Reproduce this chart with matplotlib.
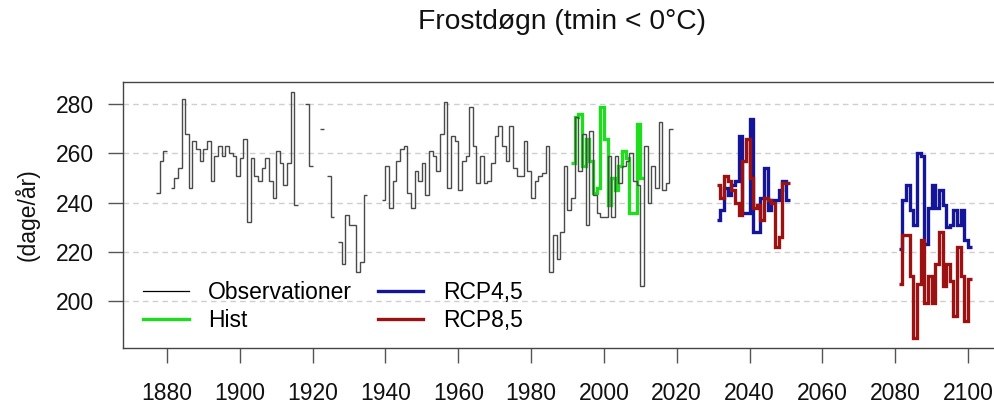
import numpy as np
import matplotlib
matplotlib.use("Agg")
import matplotlib.pyplot as plt
from matplotlib.lines import Line2D

plt.rcParams['font.family'] = ['Liberation Sans', 'DejaVu Sans']

nan = np.nan

# ---------------- data ----------------
obs_years = list(range(1877, 2019))
obs_vals = [
    244, 257, 261, nan, 246, 250, 254, 282, 268, 246,      # 1877-1886
    265, 262, 257, 262, 265, 249, 259, 263, 259, 263,      # 1887-1896
    260, 259, 251, 258, 266, 232, 258, 251, 249, 254,      # 1897-1906
    258, 249, 242, 261, 256, 247, 256, 285, 239, nan,      # 1907-1916
    nan, 280, 255, nan, nan, 270, nan, 251, 234, nan,      # 1917-1926
    224, 215, 235, 231, 231, 212, 216, 243, nan, nan,      # 1927-1936
    nan, nan, 241, 255, 238, 249, 257, 262, 263, 244,      # 1937-1946
    238, 253, 249, 256, 243, 261, 259, 253, 268, 281,      # 1947-1956
    246, 267, 265, 245, 257, 259, 279, 263, 248, 259,      # 1957-1966
    248, 249, 256, 267, 271, 263, 257, 271, 254, 251,      # 1967-1976
    251, 265, 253, 242, 249, 251, 252, 263, 212, 227,      # 1977-1986
    217, 228, 255, 237, 242, 275, 253, 268, 231, 269,      # 1987-1996
    243, 236, 234, 234, 259, 234, 259, 248, 255, 257,      # 1997-2006
    260, 249, 247, 206, 263, 240, 255, 246, 273, 245,      # 2007-2016
    248, 270,                                              # 2017-2018
]

hist_years = list(range(1991, 2011))
hist_vals = [256, 275, 276, 255, 266, 257, 244, 246, 279, 266,
             239, 250, 245, 255, 261, 258, 236, 236, 272, 250]

rcp_years_mid = list(range(2031, 2051))
rcp_years_end = list(range(2081, 2101))
rcp45_mid = [233, 237, 246, 243, 247, 249, 267, 236, 236, 274,
             228, 228, 242, 254, 237, 241, 241, 245, 249, 241]
rcp85_mid = [247, 242, 251, 249, 245, 240, 235, 257, 266, 250,
             238, 239, 233, 242, 241, 240, 222, 226, 248, 248]
rcp45_end = [221, 241, 247, 237, 231, 260, 259, 223, 238, 247,
             238, 245, 239, 230, 231, 237, 231, 237, 225, 222]
rcp85_end = [207, 227, 227, 210, 185, 207, 225, 199, 210, 199,
             215, 228, 206, 215, 208, 194, 222, 210, 192, 209]

x_ticks = [1880, 1900, 1920, 1940, 1960, 1980, 2000, 2020, 2040, 2060, 2080, 2100]
y_ticks = [200, 220, 240, 260, 280]

title = "Frostdøgn (tmin < 0°C)"
ylabel = "(dage/år)"
labels = ["Observationer", "Hist", "RCP4,5", "RCP8,5"]

# ---------------- styles ----------------
C_OBS = "#4a4a4a"
C_HIST = "#1fdc1f"
C_45 = "#15159a"
C_85 = "#9c1212"
FS = 16.5
LW_SCN = 2.4

W, H = 995, 405
fig = plt.figure(figsize=(W / 100, H / 100), dpi=100)
ax_l, ax_r, ax_t, ax_b = 123, 1001, 82, 348
ax = fig.add_axes([ax_l / W, 1 - ax_b / H, (ax_r - ax_l) / W, (ax_b - ax_t) / H])


def draw_steps(ax, years, values, label=None, **kw):
    yrs = np.asarray(years, dtype=float)
    vals = np.asarray(values, dtype=float)
    ok = np.isfinite(vals)
    handle = None
    i = 0
    n = len(vals)
    while i < n:
        if not ok[i]:
            i += 1
            continue
        j = i
        while j < n and ok[j]:
            j += 1
        edges = np.append(yrs[i:j], yrs[j - 1] + 1)
        h = ax.stairs(vals[i:j], edges, baseline=None,
                      label=label if handle is None else None, **kw)
        if handle is None:
            handle = h
        i = j
    return handle


ax.set_xlim(1867.92, 2109.06)
ax.set_ylim(180.9, 289.07)

for yv in y_ticks:
    ax.axhline(yv, color="#cfcfcf", lw=1.0, ls=(0, (4, 3)), zorder=0)

draw_steps(ax, hist_years, hist_vals, color=C_HIST, lw=LW_SCN, zorder=2)
draw_steps(ax, obs_years, obs_vals, color=C_OBS, lw=1.0, zorder=3)
draw_steps(ax, rcp_years_mid, rcp45_mid, color=C_45, lw=LW_SCN, zorder=2)
draw_steps(ax, rcp_years_end, rcp45_end, color=C_45, lw=LW_SCN, zorder=2)
draw_steps(ax, rcp_years_mid, rcp85_mid, color=C_85, lw=LW_SCN, zorder=2.5)
draw_steps(ax, rcp_years_end, rcp85_end, color=C_85, lw=LW_SCN, zorder=2.5)

ax.set_xticks(x_ticks)
ax.set_xticklabels([str(v) for v in x_ticks])
ax.set_yticks(y_ticks)
ax.set_yticklabels([str(v) for v in y_ticks])
ax.tick_params(axis="x", length=10.8, width=1.0, color="#555555", pad=14,
               labelsize=FS, labelcolor="#111111")
ax.tick_params(axis="y", length=10.5, width=1.0, color="#555555", pad=10.5,
               labelsize=FS, labelcolor="#111111")
for s in ax.spines.values():
    s.set_color("#444444")
    s.set_linewidth(1.0)

fig.text((ax_l + ax_r) / 2 / W, 1 - 22 / H, title, ha="center", va="center",
         fontsize=20.3, color="#111111")
fig.text(27 / W, 1 - 215 / H, ylabel, ha="center", va="center", rotation=90,
         fontsize=FS, color="#111111")

handles = [Line2D([], [], color="black", lw=0.9),
           Line2D([], [], color=C_HIST, lw=LW_SCN),
           Line2D([], [], color=C_45, lw=LW_SCN),
           Line2D([], [], color=C_85, lw=LW_SCN)]
leg = ax.legend(handles, labels, ncol=2, loc="upper left",
                bbox_to_anchor=(143 / W, 1 - 281 / H), bbox_transform=fig.transFigure,
                frameon=False, fontsize=FS, borderpad=0, borderaxespad=0,
                handlelength=2.0, handletextpad=0.85, columnspacing=1.1,
                labelspacing=0.22)

fig.savefig("out.png", dpi=100)
